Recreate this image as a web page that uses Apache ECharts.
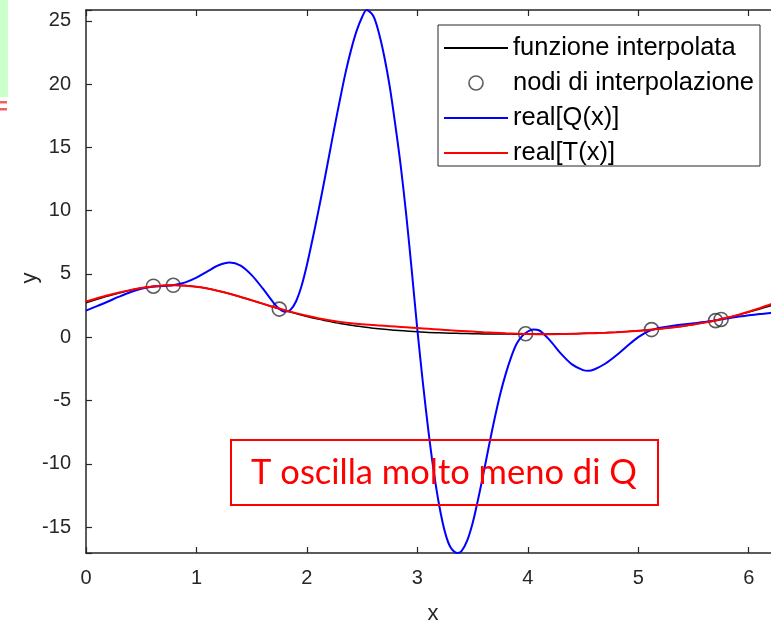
<!DOCTYPE html>
<html>
<head>
<meta charset="utf-8">
<script src="https://cdn.jsdelivr.net/npm/echarts@6/dist/echarts.min.js"></script>
<style>
  html, body { margin: 0; padding: 0; background: #ffffff; }
  #chart { width: 771px; height: 621px; }
</style>
</head>
<body>
<div id="chart"></div>
<script>
// Sample positions shared by the interpolated function and T(x)
const gridX = [0, 0.1, 0.2, 0.3, 0.4, 0.5, 0.6, 0.7, 0.8, 0.9,
  1.0, 1.1, 1.2, 1.3, 1.4, 1.5, 1.6, 1.7, 1.8, 1.9,
  2.0, 2.1, 2.2, 2.3, 2.4, 2.5, 2.6, 2.7, 2.8, 2.9,
  3.0, 3.1, 3.2, 3.3, 3.4, 3.5, 3.6, 3.7, 3.8, 3.9,
  4.0, 4.1, 4.2, 4.3, 4.4, 4.5, 4.6, 4.7, 4.8, 4.9,
  5.0, 5.1, 5.2, 5.3, 5.4, 5.5, 5.6, 5.7, 5.8, 5.9,
  6.0, 6.1, 6.2, 6.2832];

// funzione interpolata
const fValues = [2.72, 2.99, 3.25, 3.49, 3.71, 3.89, 4.01, 4.09, 4.11, 4.08,
  3.98, 3.84, 3.65, 3.43, 3.18, 2.91, 2.64, 2.37, 2.11, 1.87,
  1.64, 1.43, 1.25, 1.08, 0.94, 0.82, 0.71, 0.62, 0.55, 0.48,
  0.43, 0.38, 0.35, 0.32, 0.30, 0.28, 0.26, 0.25, 0.25, 0.24,
  0.24, 0.25, 0.26, 0.27, 0.28, 0.31, 0.33, 0.36, 0.40, 0.45,
  0.51, 0.58, 0.66, 0.76, 0.87, 1.00, 1.16, 1.33, 1.52, 1.74,
  1.98, 2.23, 2.49, 2.72];

// real[T(x)]
const tValues = [2.82, 3.07, 3.31, 3.53, 3.72, 3.89, 4.01, 4.09, 4.11, 4.07,
  3.98, 3.84, 3.65, 3.43, 3.18, 2.92, 2.65, 2.38, 2.13, 1.90,
  1.69, 1.50, 1.34, 1.21, 1.10, 1.02, 0.96, 0.90, 0.84, 0.78,
  0.72, 0.66, 0.60, 0.54, 0.49, 0.44, 0.39, 0.35, 0.31, 0.28,
  0.25, 0.24, 0.24, 0.25, 0.27, 0.29, 0.32, 0.35, 0.39, 0.44,
  0.50, 0.58, 0.66, 0.76, 0.87, 1.00, 1.15, 1.32, 1.53, 1.76,
  2.01, 2.30, 2.60, 2.82];

// real[Q(x)], sampled more densely where it swings
const qX = [0, 0.1, 0.2, 0.3, 0.4, 0.5, 0.6, 0.7, 0.8, 0.9,
  1.0, 1.1, 1.2, 1.3, 1.4, 1.5, 1.6, 1.7, 1.75, 1.8,
  1.85, 1.9, 1.95, 2.0, 2.05, 2.1, 2.15, 2.2, 2.25, 2.3,
  2.35, 2.4, 2.45, 2.5, 2.54, 2.6, 2.65, 2.7, 2.75, 2.8,
  2.85, 2.9, 2.95, 3.0, 3.05, 3.1, 3.15, 3.2, 3.25, 3.3,
  3.36, 3.4, 3.45, 3.5, 3.55, 3.6, 3.65, 3.7, 3.75, 3.8,
  3.85, 3.9, 3.95, 4.0, 4.05, 4.1, 4.2, 4.3, 4.4, 4.5,
  4.55, 4.6, 4.7, 4.8, 4.9, 5.0, 5.1, 5.2, 5.3, 5.4,
  5.5, 5.6, 5.7, 5.8, 5.9, 6.0, 6.1, 6.2, 6.2832];
const qValues = [2.10, 2.45, 2.82, 3.20, 3.55, 3.82, 3.99, 4.05, 4.13, 4.33,
  4.70, 5.20, 5.68, 5.90, 5.65, 4.90, 3.85, 2.70, 2.24, 2.02,
  2.15, 2.80, 4.00, 5.70, 7.70, 9.80, 12.0, 14.3, 16.6, 18.8,
  20.9, 22.7, 24.2, 25.3, 25.85, 25.4, 24.1, 22.2, 19.8, 16.8,
  13.5, 9.60, 5.20, 0.60, -3.60, -7.40, -10.7, -13.4, -15.4, -16.6,
  -17.05, -16.9, -16.1, -14.7, -12.8, -10.7, -8.50, -6.40, -4.50, -2.90,
  -1.55, -0.50, 0.10, 0.45, 0.60, 0.55, -0.25, -1.30, -2.15, -2.60,
  -2.65, -2.55, -2.10, -1.45, -0.70, 0.00, 0.50, 0.75, 0.88, 1.00,
  1.10, 1.20, 1.32, 1.48, 1.62, 1.73, 1.83, 1.92, 2.05];

// nodi di interpolazione
const nodeX = [0.61, 0.79, 1.75, 3.98, 5.12, 5.70, 5.75];
const nodeY = [4.03, 4.10, 2.22, 0.27, 0.60, 1.31, 1.40];

const legendNames = ['funzione interpolata', 'nodi di interpolazione', 'real[Q(x)]', 'real[T(x)]'];
const noteText = 'T oscilla molto meno di Q';
const yTitle = 'y';

const zip = (xs, ys) => xs.map((x, i) => [x, ys[i]]);

const axisColor = '#262626';
const fontFam = 'Liberation Sans, Arial, sans-serif';
const onTick = (step) => (v) => (Math.abs(v / step - Math.round(v / step)) < 1e-6 ? String(Math.round(v)) : '');
// thin bar used as the legend sample for the line series
const lineIcon = 'path://M0,0H64V2H0Z';

const chart = echarts.init(document.getElementById('chart'), null, { renderer: 'canvas' });

chart.setOption({
  backgroundColor: '#ffffff',
  animation: false,
  grid: { left: 86, top: 10, bottom: 68, right: -9, containLabel: false, outerBoundsMode: 'none' },
  xAxis: [
    {
      type: 'value', min: 0, max: 6.2832, interval: 1, position: 'bottom',
      axisLine: { show: true, onZero: false, lineStyle: { color: axisColor, width: 1.5 } },
      axisTick: { show: true, inside: true, length: 6, lineStyle: { color: axisColor, width: 1.2 } },
      splitLine: { show: false },
      axisLabel: { formatter: onTick(1), fontSize: 20, color: axisColor, margin: 15, fontFamily: fontFam },
      name: 'x', nameLocation: 'middle', nameGap: 50,
      nameTextStyle: { fontSize: 22, color: axisColor, fontFamily: fontFam }
    },
    {
      type: 'value', min: 0, max: 6.2832, interval: 1, position: 'top',
      axisLine: { show: true, onZero: false, lineStyle: { color: axisColor, width: 1.5 } },
      axisTick: { show: true, inside: true, length: 6, lineStyle: { color: axisColor, width: 1.2 } },
      splitLine: { show: false },
      axisLabel: { show: false }
    }
  ],
  yAxis: {
    type: 'value', min: -17.05, max: 25.85, splitNumber: 8,
    axisLine: { show: true, onZero: false, lineStyle: { color: axisColor, width: 1.5 } },
    axisTick: { show: true, inside: true, length: 6, lineStyle: { color: axisColor, width: 1.2 } },
    splitLine: { show: false },
    axisLabel: { formatter: onTick(5), fontSize: 20, color: axisColor, margin: 15, fontFamily: fontFam }
  },
  legend: {
    orient: 'vertical', left: 438, top: 25,
    padding: [10, 6, 0, 6], itemWidth: 64, itemHeight: 14, itemGap: 9,
    backgroundColor: '#ffffff', borderColor: axisColor, borderWidth: 1, borderRadius: 0,
    textStyle: { fontSize: 25.5, lineHeight: 25, color: '#000000', fontFamily: fontFam },
    data: [
      { name: legendNames[0], icon: lineIcon },
      { name: legendNames[1], icon: 'circle',
        itemStyle: { color: 'rgba(0,0,0,0)', borderColor: '#333333', borderWidth: 1.6 } },
      { name: legendNames[2], icon: lineIcon },
      { name: legendNames[3], icon: lineIcon }
    ]
  },
  series: [
    {
      name: legendNames[0], type: 'line', data: zip(gridX, fValues), smooth: 0.3,
      symbol: 'none', lineStyle: { color: '#000000', width: 1.5 }, itemStyle: { color: '#000000' }, z: 2
    },
    {
      name: legendNames[1], type: 'scatter', data: zip(nodeX, nodeY),
      symbol: 'circle', symbolSize: 14,
      itemStyle: { color: 'rgba(0,0,0,0)', borderColor: '#333333', borderWidth: 1.6 }, z: 3
    },
    {
      name: legendNames[2], type: 'line', data: zip(qX, qValues), smooth: 0.3,
      symbol: 'none', lineStyle: { color: '#0000ff', width: 2 }, itemStyle: { color: '#0000ff' }, z: 4
    },
    {
      name: legendNames[3], type: 'line', data: zip(gridX, tValues), smooth: 0.3,
      symbol: 'none', lineStyle: { color: '#ff0000', width: 2 }, itemStyle: { color: '#ff0000' }, z: 5
    }
  ],
  graphic: [
    { type: 'rect', left: 0, top: 0, shape: { width: 8, height: 97 }, style: { fill: '#ccffcc' }, z: 10 },
    { type: 'rect', left: 0, top: 101, shape: { width: 7, height: 2.5 }, style: { fill: '#f06060' }, z: 10 },
    { type: 'rect', left: 0, top: 108, shape: { width: 7, height: 2.5 }, style: { fill: '#f06060' }, z: 10 },
    {
      // y-axis title, rotated to read bottom-to-top
      type: 'text', z: 10, x: 30, y: 278, rotation: Math.PI / 2,
      style: {
        text: yTitle, fill: axisColor, font: '22px Liberation Sans, Arial, sans-serif',
        align: 'center', verticalAlign: 'middle', textAlign: 'center', textVerticalAlign: 'middle'
      }
    },
    {
      type: 'rect', z: 20,
      shape: { x: 231, y: 440, width: 427, height: 65 },
      style: { fill: null, stroke: '#ff0000', lineWidth: 2 }
    },
    {
      type: 'text', z: 21, x: 444, y: 473,
      style: {
        text: noteText, fill: '#ff0000', font: '34.5px Lato, sans-serif',
        align: 'center', verticalAlign: 'middle', textAlign: 'center', textVerticalAlign: 'middle'
      }
    }
  ]
});
</script>
</body>
</html>
